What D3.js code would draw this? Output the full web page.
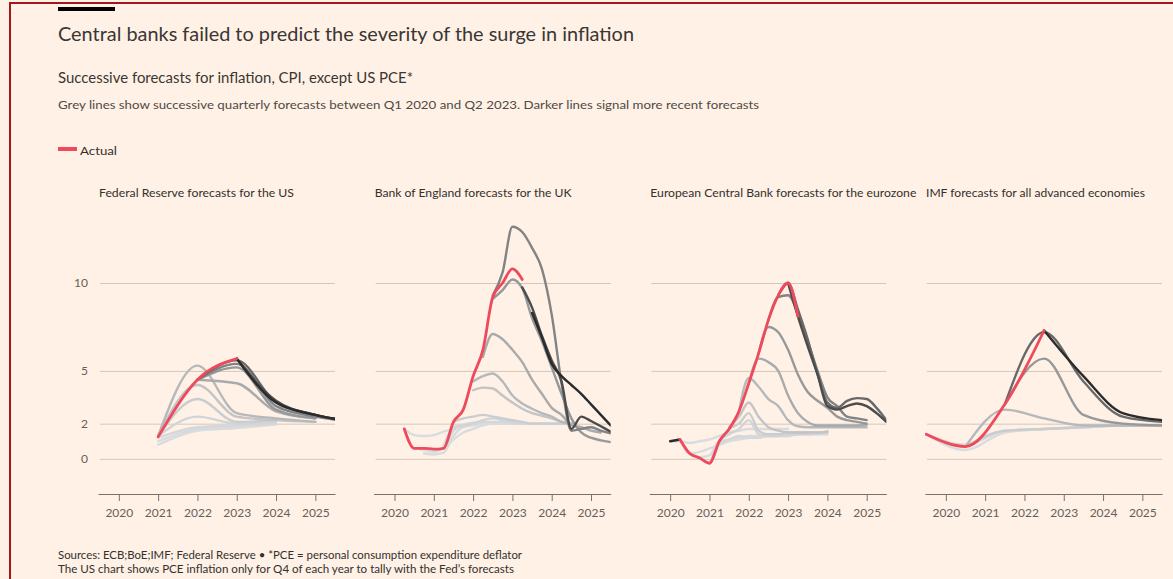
<!DOCTYPE html>
<html>
<head>
<meta charset="utf-8">
<script src="https://cdn.jsdelivr.net/npm/d3@7"></script>
<style>
body { margin: 0; background: #fff1e5; }
svg text { font-family: Lato, "Open Sans", sans-serif; }
</style>
</head>
<body>
<div id="chart"></div>
<script>
// ejes
var years = [2020, 2021, 2022, 2023, 2024, 2025];
var yTicks = [0, 2, 5, 10];
var panelTitles = [
    "Federal Reserve forecasts for the US",
    "Bank of England forecasts for the UK",
    "European Central Bank forecasts for the eurozone",
    "IMF forecasts for all advanced economies"
];

// Fed: Q4 values, one point a year
var fedActualStart = 2021;
var fedActual = [1.25, 4.5, 5.7];
var fedForecasts = [
    {q: 1, start: 2021, values: [0.8, 1.6, 1.75, 1.95]},
    {q: 2, start: 2021, values: [1.0, 1.7, 1.85, 2.0]},
    {q: 3, start: 2021, values: [1.2, 1.8, 1.9, 2.0]},
    {q: 4, start: 2021, values: [1.3, 2.4, 2.0, 2.1]},
    {q: 5, start: 2021, values: [1.3, 3.4, 2.1, 2.2]},
    {q: 6, start: 2021, values: [1.3, 4.2, 2.4, 2.2, 2.1]},
    {q: 7, start: 2021, values: [1.3, 5.3, 2.6, 2.3, 2.1]},
    {q: 8, start: 2022, values: [4.5, 4.3, 2.7, 2.3]},
    {q: 9, start: 2022, values: [4.5, 5.2, 2.8, 2.3]},
    {q: 10, start: 2022, values: [4.5, 5.4, 3.0, 2.4, 2.1]},
    {q: 11, start: 2022, values: [4.5, 5.6, 3.2, 2.5, 2.1]},
    {q: 12, start: 2023, values: [5.7, 3.3, 2.5, 2.1]},
    {q: 13, start: 2023, values: [5.7, 3.2, 2.5, 2.1]}
];

// BoE: quarterly
var boeActualStart = 2020.25;
var boeActual = [1.7, 0.6, 0.6, 0.55, 0.6, 2.1, 2.8, 4.7, 6.2, 9.2, 10.0, 10.8, 10.2];
var boeForecasts = [
    {q: 0, start: 2020.25, values: [1.7, 1.35, 1.3, 1.35, 1.55, 1.7, 1.95, 2.05, 2.1, 2.05, 2.0, 2.0, 2.0]},
    {q: 1, start: 2020.5, values: [0.6, 0.5, 0.4, 0.6, 1.1, 1.5, 1.7, 1.9, 2.0, 2.0, 2.0, 2.0, 2.0]},
    {q: 2, start: 2020.75, values: [0.3, 0.25, 0.35, 1.3, 1.8, 1.9, 2.0, 2.0, 2.0, 2.0, 2.0, 2.0, 2.0]},
    {q: 3, start: 2021, values: [0.5, 0.6, 1.6, 1.9, 2.0, 2.1, 2.1, 2.1, 2.0, 2.0, 2.0, 2.0, 2.0]},
    {q: 4, start: 2021.25, values: [0.7, 1.8, 1.9, 2.0, 2.2, 2.3, 2.2, 2.1, 2.0, 2.0, 2.0, 2.0, 2.0]},
    {q: 5, start: 2021.5, values: [2.1, 2.3, 2.4, 2.5, 2.4, 2.3, 2.2, 2.1, 2.0, 2.0, 2.0, 2.0, 2.0]},
    {q: 6, start: 2022, values: [3.9, 4.05, 4.0, 3.6, 3.2, 2.85, 2.6, 2.45, 2.3, 2.1, 2.0]},
    {q: 7, start: 2022, values: [4.4, 4.7, 4.85, 4.4, 3.6, 3.15, 2.85, 2.6, 2.4, 2.1, 2.0]},
    {q: 8, start: 2022.25, values: [5.8, 7.1, 6.8, 6.2, 5.5, 4.5, 3.7, 2.9, 2.5, 1.9, 1.8, 1.6, 1.5]},
    {q: 9, start: 2022.5, values: [9.1, 9.6, 10.2, 9.7, 8.0, 6.7, 5.2, 3.7, 2.3, 1.5, 1.2, 1.05, 0.95]},
    {q: 10, start: 2022.5, values: [9.3, 10.6, 13.2, 12.9, 12.0, 10.8, 8.2, 4.3, 1.6, 1.7, 1.8, 1.6, 1.45]},
    {q: 12, start: 2023.25, values: [9.75, 8.6, 7.0, 5.6, 4.4, 1.7, 2.4, 2.15, 1.85, 1.55]},
    {q: 13, start: 2023.5, values: [8.3, 6.9, 5.4, 4.7, 4.2, 3.7, 3.1, 2.5, 1.9]}
];

// ECB: quarterly
var ecbActualStart = 2020.25;
var ecbActual = [1.1, 0.3, 0.05, -0.25, 1.0, 1.7, 2.7, 4.3, 6.0, 7.9, 9.3, 10.0, 8.1];
var ecbForecasts = [
    {q: 0, start: 2020, values: [1.0, 1.0, 0.9, 1.0, 1.1, 1.3, 1.5, 1.6, 1.7, 1.7, 1.7, 1.7, 1.7]},
    {q: 1, start: 2020.25, values: [1.1, 0.3, 0.4, 0.6, 0.8, 1.0, 1.1, 1.2, 1.3, 1.3, 1.3, 1.3]},
    {q: 2, start: 2020.5, values: [0.25, 0.1, 0.2, 1.0, 1.1, 1.2, 1.3, 1.3, 1.4, 1.4, 1.4]},
    {q: 3, start: 2020.75, values: [0.05, -0.25, 0.8, 1.1, 1.3, 1.2, 1.2, 1.3, 1.3, 1.3, 1.4, 1.4, 1.4, 1.4]},
    {q: 4, start: 2021, values: [-0.3, 1.0, 1.4, 1.7, 2.2, 1.4, 1.3, 1.3, 1.4, 1.4, 1.4, 1.45, 1.5]},
    {q: 5, start: 2021.25, values: [1.0, 1.7, 2.0, 2.6, 1.6, 1.4, 1.4, 1.5, 1.5, 1.5, 1.5, 1.55]},
    {q: 6, start: 2021.5, values: [1.8, 2.4, 3.2, 2.4, 1.8, 1.6, 1.5, 1.5, 1.5, 1.5, 1.55]},
    {q: 7, start: 2021.75, values: [2.7, 4.6, 4.1, 3.4, 3.0, 2.2, 1.85, 1.8, 1.8, 1.8, 1.8, 1.8, 1.8, 1.8]},
    {q: 8, start: 2022, values: [4.3, 5.7, 5.5, 5.0, 3.6, 2.6, 2.1, 1.9, 1.9, 1.9, 1.9, 1.9, 1.95]},
    {q: 9, start: 2022.25, values: [6.0, 7.5, 7.2, 6.2, 4.8, 3.8, 3.3, 2.9, 2.4, 2.2, 2.1, 2.0]},
    {q: 10, start: 2022.5, values: [7.9, 9.2, 9.3, 8.3, 6.7, 5.0, 3.5, 3.0, 2.4, 2.3, 2.2]},
    {q: 11, start: 2022.75, values: [9.3, 10.0, 8.5, 6.8, 4.8, 3.2, 2.9, 3.3, 3.45, 3.4, 2.9, 2.2]},
    {q: 12, start: 2023, values: [10.0, 8.1, 6.4, 4.8, 3.0, 2.8, 3.0, 3.15, 3.0, 2.6, 2.1]},
    {q: 13, start: 2020, values: [1.0, 1.1]}
];

// IMF: annual averages, drawn mid-year
var imfActualStart = 2019.5;
var imfActual = [1.4, 0.7, 3.1, 7.3];
var imfForecasts = [
    {q: 1, start: 2019.5, values: [1.4, 0.5, 1.5, 1.7, 1.8, 1.9, 1.9]},
    {q: 3, start: 2019.5, values: [1.4, 0.8, 1.6, 1.7, 1.8, 1.9, 1.9]},
    {q: 5, start: 2020.5, values: [0.7, 1.6, 1.7, 1.8, 1.9, 1.9]},
    {q: 7, start: 2020.5, values: [0.7, 2.8, 2.3, 1.9, 1.9, 1.9]},
    {q: 9, start: 2021.5, values: [3.1, 5.7, 2.5, 2.0, 1.9]},
    {q: 11, start: 2021.5, values: [3.1, 7.2, 4.4, 2.4, 2.1]},
    {q: 13, start: 2022.5, values: [7.3, 4.7, 2.6, 2.2]}
];

var panels = [
    {title: panelTitles[0], step: 1, actualStart: fedActualStart, actual: fedActual, forecasts: fedForecasts},
    {title: panelTitles[1], step: 0.25, actualStart: boeActualStart, actual: boeActual, forecasts: boeForecasts},
    {title: panelTitles[2], step: 0.25, actualStart: ecbActualStart, actual: ecbActual, forecasts: ecbForecasts},
    {title: panelTitles[3], step: 1, actualStart: imfActualStart, actual: imfActual, forecasts: imfForecasts}
];

var ancho = 1173, alto = 579;
var rojo = "#ef4a5b";
var tinta = "#33302e";

var svg = d3.select("#chart").append("svg")
    .attr("width", ancho)
    .attr("height", alto);

svg.append("rect").attr("width", ancho).attr("height", alto).attr("fill", "#fff1e5");
// marco
svg.append("rect")
    .attr("x", 10).attr("y", 3)
    .attr("width", ancho + 20).attr("height", alto + 20)
    .attr("fill", "none").attr("stroke", "#a3191b").attr("stroke-width", 2);

function texto(x, y, str, size, color, width) {
    var t = svg.append("text")
        .attr("x", x).attr("y", y)
        .attr("fill", color)
        .style("font-size", size + "px")
        .text(str);
    if (width) {
        t.attr("textLength", width).attr("lengthAdjust", "spacingAndGlyphs");
    }
    return t;
}

// cabecera
svg.append("rect").attr("x", 58).attr("y", 7).attr("width", 57).attr("height", 4).attr("fill", "#000");
texto(58, 41, "Central banks failed to predict the severity of the surge in inflation", 20, "#3a3633", 576);
texto(58, 83, "Successive forecasts for inflation, CPI, except US PCE*", 14.5, "#3a3633", 355);
texto(58, 109, "Grey lines show successive quarterly forecasts between Q1 2020 and Q2 2023. Darker lines signal more recent forecasts", 11.5, "#4f4a46", 701);
svg.append("rect").attr("x", 58).attr("y", 147).attr("width", 19).attr("height", 4).attr("fill", rojo);
texto(80, 155, "Actual", 12, tinta, 37);

// pie
texto(58, 559, "Sources: ECB;BoE;IMF; Federal Reserve \u2022 *PCE = personal consumption expenditure deflator", 10.5, tinta, 464);
texto(58, 573, "The US chart shows PCE inflation only for Q4 of each year to tally with the Fed\u2019s forecasts", 10.5, tinta, 456);

var y = d3.scaleLinear().domain([-2, 10]).range([494, 283]);
var gris = d3.interpolateRgb("#d9dcdf", "#2b2b2b");
function colorQ(q) { return gris(Math.pow(q / 13, 2.6)); }

var anchoPanel = 237;
var tituloAncho = [195, 197, 266, 219];

function serie(start, values, step) {
    return values.map(function (v, i) { return [start + i * step, v]; });
}

panels.forEach(function (p, i) {
    var x0 = 98 + i * 275.67;
    var x = d3.scaleLinear().domain([2019.47, 2025.5]).range([x0, x0 + anchoPanel]);
    var g = svg.append("g");

    texto(x0 + 1, 197, p.title, 11, tinta, tituloAncho[i]);

    // rejilla horizontal
    var yAxis = d3.axisLeft(y)
        .tickValues(yTicks)
        .tickSize(-(anchoPanel - 2))
        .tickPadding(10)
        .tickFormat(i === 0 ? d3.format("d") : "");
    var gy = g.append("g")
        .attr("transform", "translate(" + (x0 + 2) + ",0)")
        .call(yAxis);
    gy.select(".domain").remove();
    gy.selectAll(".tick line").attr("stroke", "#d3c7bc");
    gy.selectAll(".tick text")
        .attr("x", -12)
        .attr("fill", "#66605c")
        .style("font-size", "12px")
        .style("font-family", "Lato, 'Open Sans', sans-serif");

    // eje de años
    var xAxis = d3.axisBottom(x)
        .tickValues(years)
        .tickSize(7)
        .tickSizeOuter(0)
        .tickPadding(7)
        .tickFormat(d3.format("d"));
    var gx = g.append("g")
        .attr("transform", "translate(0," + y(-2) + ")")
        .call(xAxis);
    gx.select(".domain").attr("stroke", "#77716d");
    gx.selectAll(".tick line").attr("stroke", "#77716d");
    gx.selectAll(".tick text")
        .attr("fill", "#66605c")
        .style("font-size", "12px")
        .style("font-family", "Lato, 'Open Sans', sans-serif");

    // recorte de las lineas
    svg.append("defs").append("clipPath")
        .attr("id", "ventana" + i)
        .append("rect")
        .attr("x", x0).attr("y", 200)
        .attr("width", anchoPanel).attr("height", 290);

    var linea = d3.line()
        .x(function (d) { return x(d[0]); })
        .y(function (d) { return y(d[1]); })
        .curve(d3.curveMonotoneX);

    var cuerpo = g.append("g").attr("clip-path", "url(#ventana" + i + ")");
    var orden = p.forecasts.slice().sort(function (a, b) { return a.q - b.q; });

    cuerpo.selectAll("path.forecast")
        .data(orden)
        .enter().append("path")
        .attr("class", "forecast")
        .attr("d", function (d) { return linea(serie(d.start, d.values, p.step)); })
        .attr("fill", "none")
        .attr("stroke", function (d) { return colorQ(d.q); })
        .attr("stroke-width", 2.4)
        .attr("stroke-linejoin", "round")
        .attr("stroke-linecap", "round");

    cuerpo.append("path")
        .attr("d", linea(serie(p.actualStart, p.actual, p.step)))
        .attr("fill", "none")
        .attr("stroke", rojo)
        .attr("stroke-width", 2.8)
        .attr("stroke-linejoin", "round")
        .attr("stroke-linecap", "round");
});
</script>
</body>
</html>
